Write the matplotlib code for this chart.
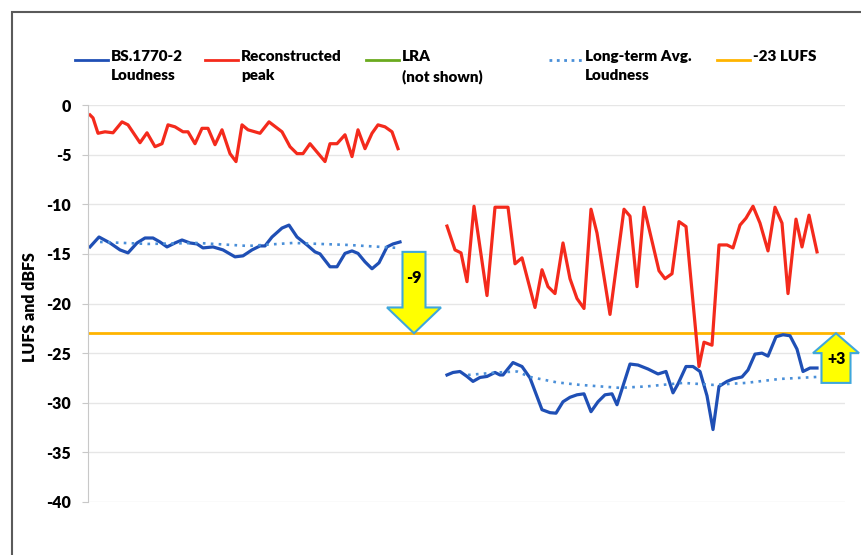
import matplotlib.pyplot as plt
from matplotlib.lines import Line2D
from matplotlib.patches import FancyArrow, Rectangle

plt.rcParams['font.family'] = ['Lato', 'DejaVu Sans']
plt.rcParams['font.weight'] = 'heavy'

# time axis (arbitrary units) and levels
peak1_t = [2, 5, 10, 17, 25, 34, 40, 52, 59, 67, 74, 80, 87, 95, 100, 107, 114, 120, 127, 134,
           142, 148, 154, 160, 172, 181, 194, 202, 209, 215, 222, 237, 242, 249, 257, 264, 270,
           277, 284, 290, 297, 304, 310]
peak1 = [-1.0, -1.3, -2.85, -2.7, -2.8, -1.7, -2.0, -3.8, -2.8, -4.2, -3.9, -2.0, -2.2, -2.7, -2.7,
         -3.9, -2.35, -2.35, -4.0, -2.5, -4.9, -5.7, -2.0, -2.5, -2.85, -1.7, -2.7, -4.2, -4.9, -4.9,
         -3.9, -5.7, -3.9, -3.9, -3.0, -5.2, -2.5, -4.4, -2.85, -2.0, -2.2, -2.7, -4.4]

loud1_t = [2, 11, 22, 32, 40, 49, 57, 65, 72, 79, 87, 94, 102, 109, 115, 125, 135, 147, 155, 164,
           172, 177, 184, 194, 201, 209, 219, 227, 232, 242, 249, 257, 264, 270, 277, 284, 291,
           299, 305, 312]
loud1 = [-14.3, -13.3, -13.9, -14.6, -14.9, -13.9, -13.4, -13.4, -13.8, -14.3, -13.9, -13.6, -13.9,
         -14.0, -14.4, -14.3, -14.6, -15.3, -15.2, -14.6, -14.2, -14.2, -13.3, -12.4, -12.1, -13.3,
         -14.1, -14.8, -15.0, -16.3, -16.3, -14.95, -14.7, -14.95, -15.8, -16.5, -15.9, -14.3,
         -14.0, -13.8]

avg1_t = [12, 60, 110, 160, 205, 260, 310]
avg1 = [-13.8, -14.0, -13.9, -14.2, -13.9, -14.1, -14.4]

peak2_t = [359, 367, 373, 379, 386, 399, 407, 420, 427, 434, 447, 454, 460, 467, 475, 482, 489,
           496, 503, 509, 522, 536, 542, 549, 556, 571, 577, 584, 591, 598, 611, 616, 624, 631,
           639, 645, 652, 658, 665, 672, 680, 687, 694, 700, 708, 714, 721, 729]
peak2 = [-12.2, -14.6, -14.9, -17.8, -10.2, -19.2, -10.3, -10.3, -16.0, -15.4, -20.4, -16.6, -18.3,
         -19.0, -13.9, -17.5, -19.5, -20.5, -10.5, -12.9, -21.1, -10.5, -11.2, -18.3, -10.3, -16.7,
         -17.5, -17.0, -11.75, -12.25, -26.35, -23.9, -24.2, -14.1, -14.1, -14.4, -12.1, -11.4,
         -10.2, -11.9, -14.7, -10.3, -11.9, -19.0, -11.5, -14.3, -11.1, -14.8]

loud2_t = [359, 365, 372, 379, 385, 392, 399, 407, 412, 415, 425, 434, 442, 454, 462, 468, 475,
           482, 489, 496, 503, 510, 517, 524, 529, 542, 550, 560, 570, 578, 585, 590, 598, 605,
           612, 619, 625, 631, 639, 645, 654, 660, 667, 674, 680, 688, 695, 702, 709, 715, 722, 729]
loud2 = [-27.2, -26.95, -26.85, -27.35, -27.85, -27.45, -27.35, -26.95, -27.2, -27.2, -25.95,
         -26.35, -27.5, -30.7, -31.0, -31.05, -29.9, -29.45, -29.2, -29.1, -30.9, -29.9, -29.2,
         -29.1, -30.2, -26.1, -26.2, -26.6, -27.1, -26.85, -29.0, -28.1, -26.35, -26.35, -26.85,
         -29.3, -32.7, -28.35, -27.85, -27.6, -27.4, -26.7, -25.1, -25.0, -25.3, -23.35, -23.15,
         -23.25, -24.6, -26.85, -26.5, -26.5]

avg2_t = [380, 409, 429, 442, 469, 492, 532, 559, 595, 625, 658, 692, 729]
avg2 = [-27.2, -26.95, -26.85, -27.4, -27.95, -28.2, -28.5, -28.35, -28.0, -28.2, -28.0, -27.6, -27.4]

target = -23
yticks = [0, -5, -10, -15, -20, -25, -30, -35, -40]

blue = '#1f4fb5'
red = '#f42a1c'
green = '#6aaa1e'
lblue = '#4a8fd8'
gold = '#ffb400'

fig = plt.figure(figsize=(8.62, 5.55), dpi=100)
ax = fig.add_axes([88 / 862, 1 - 502 / 555, (845 - 88) / 862, (502 - 105) / 555])

ax.plot(peak1_t, peak1, color=red, lw=2.3)
ax.plot(peak2_t, peak2, color=red, lw=2.3)
ax.plot(loud1_t, loud1, color=blue, lw=2.3)
ax.plot(loud2_t, loud2, color=blue, lw=2.3)
ax.plot(avg1_t, avg1, color=lblue, lw=1.9, ls=(0, (1, 2)))
ax.plot(avg2_t, avg2, color=lblue, lw=1.9, ls=(0, (1, 2)))
ax.axhline(target, color=gold, lw=2.0, zorder=1)

# shift arrows
arrow_kw = dict(length_includes_head=True, facecolor='#ffff00', edgecolor='#3fa7dc',
                lw=1.5, zorder=5, clip_on=False)
ax.add_patch(FancyArrow(326, -14.8, 0, target + 14.8, width=23, head_width=54,
                        head_length=2.6, **arrow_kw))
ax.text(326, -17.4, '-9', ha='center', va='center', fontsize=11.5, zorder=6)
ax.add_patch(FancyArrow(748, -28.0, 0, target + 28.0, width=29, head_width=46,
                        head_length=2.0, **arrow_kw))
ax.text(749, -25.6, '+3', ha='center', va='center', fontsize=11.5, zorder=6, clip_on=False)

ax.set_xlim(0, 757)
ax.set_ylim(-40, 0)
ax.set_yticks(yticks)
ax.set_yticklabels([str(v) for v in yticks])
ax.set_xticks([])
ax.yaxis.grid(True, color='#e6e6e6', lw=1)
ax.set_axisbelow(True)
for s in ['top', 'right', 'bottom']:
    ax.spines[s].set_visible(False)
ax.spines['left'].set_color('#c8c8c8')
ax.tick_params(axis='y', length=4, color='#c8c8c8', labelsize=11.5, pad=8)
ax.set_ylabel('LUFS and dBFS', fontsize=11.5, fontweight='heavy')
ax.yaxis.set_label_coords(-0.066, 0.49)

# legend drawn manually, Excel style
legend_items = [
    ('BS.1770-2\nLoudness', blue, '-'),
    ('Reconstructed\npeak', red, '-'),
    ('LRA\n(not shown)', green, '-'),
    ('Long-term Avg.\nLoudness', lblue, ':'),
    ('-23 LUFS', gold, '-'),
]
legend_x = [75, 205, 366, 549, 717]
for (label, col, ls), x0 in zip(legend_items, legend_x):
    y0 = 1 - 60 / 555
    fig.add_artist(Line2D([x0 / 862, (x0 + 33) / 862], [y0, y0], color=col, lw=2, ls=ls))
    fig.text((x0 + 36) / 862, 1 - 50 / 555, label, fontsize=11,
             va='top', ha='left', linespacing=1.5)

# outer chart border
fig.add_artist(Rectangle((12 / 862, -0.05), 1.0, 1 - 12 / 555 + 0.05, transform=fig.transFigure,
                         fill=False, edgecolor='#5a5a5a', lw=1.5))

fig.savefig('out.png', dpi=100)
